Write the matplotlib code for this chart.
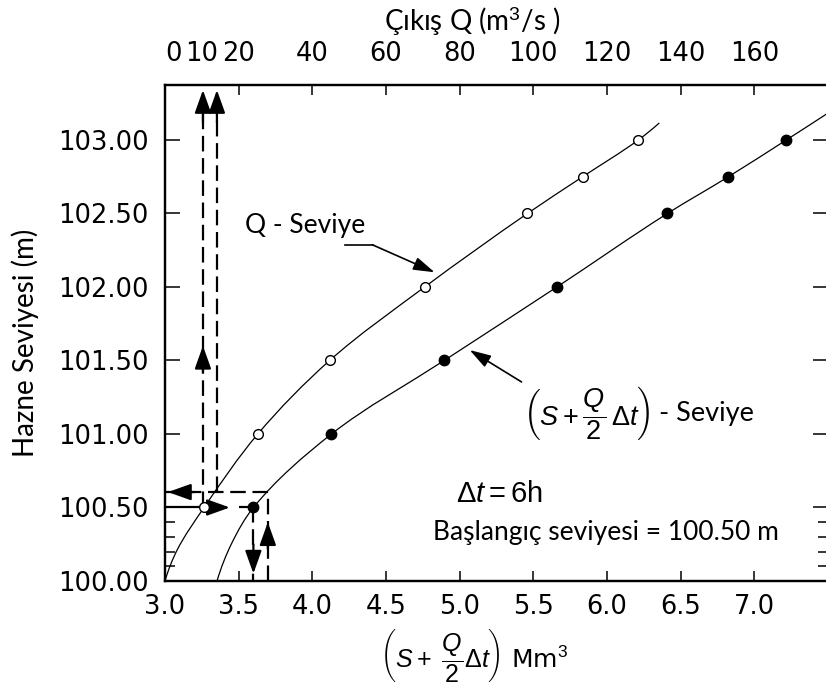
import matplotlib
matplotlib.use("Agg")
import numpy as np
import matplotlib.pyplot as plt
from matplotlib.path import Path
from matplotlib.patches import PathPatch
from matplotlib.ticker import FixedLocator, FormatStrFormatter

# ---------------- data ----------------
levels = [100.5, 101.0, 101.5, 102.0, 102.5, 102.75, 103.0]
q_out = [10.6, 25.2, 44.7, 70.5, 98.4, 113.4, 128.5]          # m3/s  (top axis)
s_term = [3.60, 4.13, 4.895, 5.66, 6.41, 6.824, 7.217]        # Mm3   (bottom axis)

# extra points (start and end of each curve)
q_curve_head_level = [100.0, 100.211]
q_curve_head_q = [0.0, 3.3]
q_curve_tail_level = [103.116]
q_curve_tail_q = [134.2]
s_curve_head_level = [100.0, 100.259]
s_curve_head_s = [3.353, 3.454]
s_curve_tail_level = [103.18]
s_curve_tail_s = [7.495]

x_ticks = [3.0, 3.5, 4.0, 4.5, 5.0, 5.5, 6.0, 6.5, 7.0]
x_ticklabels = ["3.0", "3.5", "4.0", "4.5", "5.0", "5.5", "6.0", "6.5", "7.0"]
y_ticks = [100.0, 100.5, 101.0, 101.5, 102.0, 102.5, 103.0]
y_minor = [100.1, 100.2, 100.3, 100.4]
q_ticks = [0, 10, 20, 40, 60, 80, 100, 120, 140, 160]

start_level = 100.5
next_level = 100.605
start_s = 3.60
next_s = 3.698
q_start = 10.3
q_next = 14.1

# ---------------- style ----------------
plt.rcParams['mathtext.fontset'] = 'custom'
plt.rcParams['mathtext.rm'] = 'Liberation Sans'
plt.rcParams['mathtext.it'] = 'Liberation Sans:italic'
plt.rcParams['mathtext.bf'] = 'Liberation Sans:bold'
TICKFONT = 'DejaVu Sans'
TXTFONT = 'Lato'
TS = 18.5

fig = plt.figure(figsize=(8.26, 6.91), dpi=100)
W, H = 826.0, 691.0
L, R, T, B = 165, 828, 85, 581
ax = fig.add_axes([L / W, 1 - B / H, (R - L) / W, (B - T) / H])
ax.set_xlim(3.0, 7.5)
ax.set_ylim(100.0, 103.374)

ax2 = ax.twiny()
ax2.set_xlim(0, 40 * (7.5 - 3.0))

for a in (ax, ax2):
    for sp in a.spines.values():
        sp.set_linewidth(1.6)

ax.set_xticks(x_ticks)
ax.set_xticklabels(x_ticklabels, fontfamily=TICKFONT, fontsize=TS)
ax.set_yticks(y_ticks)
ax.yaxis.set_major_formatter(FormatStrFormatter('%.2f'))
ax.yaxis.set_minor_locator(FixedLocator(y_minor))
ax.tick_params(axis='x', which='major', direction='in', length=7.5, width=1.1,
               top=True, bottom=True, pad=9)
ax.tick_params(axis='y', which='major', direction='in', length=11, width=1.1,
               left=True, right=True, pad=12)
ax.tick_params(axis='y', which='minor', direction='in', length=7, width=1.1,
               left=True, right=True)
for lab in ax.get_yticklabels():
    lab.set_fontfamily(TICKFONT)
    lab.set_fontsize(TS)

ax2.set_xticks(q_ticks)
ax2.set_xticklabels([str(q) for q in q_ticks], fontfamily=TICKFONT, fontsize=TS)
ax2.tick_params(axis='x', length=0, pad=13)
ax2.get_xticklabels()[0].set_horizontalalignment('left')


# ---------------- smooth curve drawing through the read points ----------------
def smooth_path(xs, ys, sx, sy):
    P = np.column_stack([np.asarray(xs, float) * sx, np.asarray(ys, float) * sy])
    n = len(P)
    d = np.diff(P, axis=0)
    seg = np.hypot(d[:, 0], d[:, 1])
    U = d / seg[:, None]
    Tg = np.zeros_like(P)
    for i in range(1, n - 1):
        t = U[i - 1] + U[i]
        Tg[i] = t / np.hypot(*t)
    t0 = 2 * U[0] - Tg[1]
    Tg[0] = t0 / np.hypot(*t0)
    t1 = 2 * U[-1] - Tg[-2]
    Tg[-1] = t1 / np.hypot(*t1)
    verts = [P[0]]
    codes = [Path.MOVETO]
    for i in range(n - 1):
        verts += [P[i] + Tg[i] * seg[i] / 3, P[i + 1] - Tg[i + 1] * seg[i] / 3, P[i + 1]]
        codes += [Path.CURVE4] * 3
    verts = np.array(verts) / np.array([sx, sy])
    return Path(verts, codes)


q_line_q = q_curve_head_q + q_out + q_curve_tail_q
q_line_lv = q_curve_head_level + levels + q_curve_tail_level
s_line_s = s_curve_head_s + s_term + s_curve_tail_s
s_line_lv = s_curve_head_level + levels + s_curve_tail_level

ax2.add_patch(PathPatch(smooth_path(q_line_q, q_line_lv, 3.6875, 147.0),
                        fill=False, ec='black', lw=0.9, zorder=3))
ax.add_patch(PathPatch(smooth_path(s_line_s, s_line_lv, 147.5, 147.0),
                       fill=False, ec='black', lw=0.9, zorder=3))
ax2.plot(q_out, levels, linestyle='none', marker='o', ms=7, mfc='white',
         mec='black', mew=1.0, zorder=5)
ax.plot(s_term, levels, linestyle='none', marker='o', ms=7.5, mfc='black',
        mec='black', zorder=5)

# ---------------- construction lines ----------------
DASH = (0, (7, 3))
DLW = 1.6
head = dict(arrowstyle='-|>,head_length=1.4,head_width=0.5', color='black',
            lw=DLW, shrinkA=0, shrinkB=0)

ax2.plot([0, q_out[0]], [start_level, start_level], color='black', lw=1.6, zorder=4)
ax.annotate('', xy=(3.44, start_level), xytext=(3.30, start_level), arrowprops=head)
ax.plot([3.50, start_s], [start_level, start_level], color='black', lw=DLW,
        linestyle=DASH)
ax.plot([start_s, start_s], [start_level, 100.0], color='black', lw=DLW, linestyle=DASH)
ax.annotate('', xy=(start_s, 100.05), xytext=(start_s, 100.25), arrowprops=head)
ax.plot([next_s, next_s], [100.0, next_level], color='black', lw=DLW, linestyle=DASH)
ax.annotate('', xy=(next_s, 100.40), xytext=(next_s, 100.22), arrowprops=head)
ax.plot([next_s, 3.0], [next_level, next_level], color='black', lw=DLW, linestyle=DASH)
ax.annotate('', xy=(3.02, next_level), xytext=(3.20, next_level), arrowprops=head)
ax2.plot([q_start, q_start], [start_level, 103.2], color='black', lw=DLW, linestyle=DASH)
ax2.plot([q_next, q_next], [next_level, 103.2], color='black', lw=DLW, linestyle=DASH)
ax2.annotate('', xy=(q_start, 103.34), xytext=(q_start, 103.12), arrowprops=head)
ax2.annotate('', xy=(q_next, 103.34), xytext=(q_next, 103.12), arrowprops=head)
ax2.annotate('', xy=(q_start, 101.60), xytext=(q_start, 101.42), arrowprops=head)

# ---------------- annotations ----------------
small_head = dict(arrowstyle='-|>,head_length=1.3,head_width=0.4', color='black',
                  lw=1.2, shrinkA=0, shrinkB=0)
ax.text(3.54, 102.42, 'Q - Seviye', fontfamily=TXTFONT, fontsize=19, ha='left',
        va='center')
ax.plot([4.22, 4.41], [102.286, 102.286], color='black', lw=1.2)
ax.annotate('', xy=(4.83, 102.10), xytext=(4.41, 102.286), arrowprops=small_head)
ax.annotate('', xy=(5.068, 101.571), xytext=(5.42, 101.354), arrowprops=small_head)

t_math = ax.text(5.43, 101.14, r'$\left(S+\dfrac{Q}{2}\,\Delta t\right)$', fontsize=19.5,
                 ha='left', va='center')
fig.canvas.draw()
bb = t_math.get_window_extent(fig.canvas.get_renderer())
fig.text((bb.x1 + 8) / W, (bb.y0 + bb.y1) / 2 / H, '- Seviye', fontfamily=TXTFONT,
         fontsize=19.5, ha='left', va='center')

ax.text(5.27, 100.59, r'$\Delta t = 6\mathrm{h}$', fontsize=21, ha='center', va='center')
ax.text(4.82, 100.33, 'Başlangıç seviyesi = 100.50 m', fontfamily=TXTFONT,
        fontsize=19, ha='left', va='center')

# axis titles
fig.text(474 / W, 1 - 655 / H, r'$\left(S+\ \dfrac{Q}{2}\Delta t\right)$ Mm$^3$',
         fontsize=18, ha='center', va='center')
fig.text(472 / W, 1 - 22 / H, 'Çıkış Q (m$^3$/s )', fontfamily=TXTFONT, fontsize=20,
         ha='center', va='center')
fig.text(25 / W, 1 - 343 / H, 'Hazne Seviyesi (m)', fontfamily=TXTFONT, fontsize=20,
         ha='center', va='center', rotation=90)

fig.savefig('out.png', dpi=100)
